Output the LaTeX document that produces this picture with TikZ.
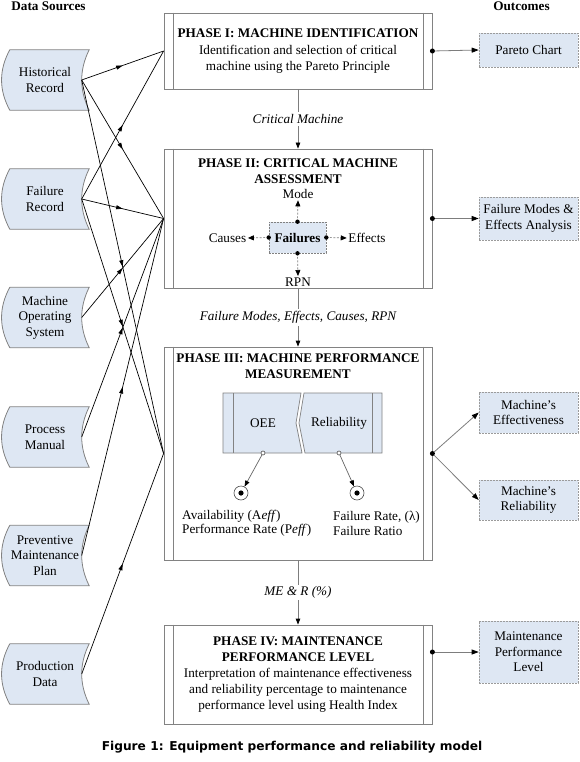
\documentclass[tikz,border=0pt]{standalone}
\usepackage{fontspec}
\setmainfont{Liberation Serif}
\newfontfamily\capfont{DejaVu Sans}
\usetikzlibrary{arrows.meta,decorations.markings,calc,backgrounds}

\definecolor{srcfill}{RGB}{222,231,243}
\definecolor{boxline}{RGB}{130,130,130}
\definecolor{conngray}{RGB}{125,125,125}

\newcommand\srcshape[1]{%
  \draw[srcdraw] ($(#1.north west)+(9,0)$) -- (#1.north east)
    .. controls ($(#1.north east)+(-10,20)$) and ($(#1.south east)+(-10,-20)$) .. (#1.south east)
    -- ($(#1.south west)+(9,0)$)
    .. controls ($(#1.south west)+(-2,-20)$) and ($(#1.north west)+(-2,20)$) .. cycle;}
\newcommand\phaselines[1]{%
  \draw[boxline,line width=0.8pt] ([xshift=10pt]#1.north west) -- ([xshift=10pt]#1.south west);
  \draw[boxline,line width=0.8pt] ([xshift=-9.5pt]#1.north east) -- ([xshift=-9.5pt]#1.south east);}

\begin{document}
\begin{tikzpicture}[x=1pt,y=-1pt,
  font=\fontsize{13.2}{15.5}\selectfont,
  srcbox/.style={minimum width=88pt,minimum height=60pt,inner sep=0pt,align=center},
  srcdraw/.style={draw=boxline,fill=srcfill,line width=0.8pt},
  phasebox/.style={draw=boxline,line width=0.8pt,fill=white,minimum width=268pt,inner sep=0pt,align=center},
  titlefont/.style={font=\fontsize{13.2}{16}\selectfont\bfseries},
  outbox/.style={fill=srcfill,draw=boxline!80,dash pattern=on 2pt off 1pt,line width=0.6pt,minimum width=99pt,inner sep=1pt,align=center},
  srcline/.style={draw=black,line width=0.7pt,postaction={decorate},
    decoration={markings,mark=at position 0.5 with {\arrow{Triangle[length=6.5pt,width=4pt]}}}},
  vconn/.style={draw=conngray,line width=0.8pt,-{Triangle[length=6pt,width=4.5pt,black]}},
  lbl/.style={fill=white,inner sep=2pt,font=\fontsize{13.2}{15.5}\selectfont\itshape},
  outarr/.style={draw=conngray,line width=0.8pt,-{Triangle[length=7pt,width=5pt,black]}},
  dasharr/.style={draw=gray,line width=0.7pt,dash pattern=on 2pt off 1.5pt,-{Triangle[length=6pt,width=5pt,black]}},
  lbltight/.style={inner sep=1.5pt},
  smallcirc/.style={circle,draw=black!70,fill=white,inner sep=0pt,minimum size=4pt,line width=0.6pt},
  target/.style={circle,draw=black!70,fill=white,inner sep=0pt,minimum size=14pt,line width=0.6pt},
  thinarr/.style={draw=black!60,line width=0.7pt,-{Triangle[length=6pt,width=4.5pt,black]}}
]
\useasboundingbox (0,0) rectangle (580,762);

% headers
\node[titlefont] (hdrL) at (48.5,6) {Data Sources};
\node[titlefont] (hdrR) at (521.5,6) {Outcomes};

% data sources
\node[srcbox] (hist) at (45,80) {Historical\\Record};
\node[srcbox] (fail) at (45,199) {Failure\\Record};
\node[srcbox] (mos) at (45,317.5) {Machine\\Operating\\System};
\node[srcbox] (pm) at (45,437) {Process\\Manual};
\node[srcbox] (pmp) at (45,555.5) {Preventive\\Maintenance\\Plan};
\node[srcbox] (prod) at (45,674) {Production\\Data};
\begin{scope}[on background layer]
  \foreach \s in {hist,fail,mos,pm,pmp,prod}{\srcshape{\s}}
\end{scope}
\foreach \s in {hist,fail,mos,pm,pmp,prod}{\coordinate (\s R) at ($(\s.east)+(-7.5,0)$);}

% phase boxes
\node[phasebox,minimum height=76pt] (p1) at (298,51)
  {\textbf{PHASE I: MACHINE IDENTIFICATION}\\[1.5pt]Identification and selection of critical\\machine using the Pareto Principle};
\phaselines{p1}
\node[phasebox,minimum height=139pt] (p2) at (298,218.5) {};
\phaselines{p2}
\node[titlefont,align=center] (p2t) at (298,171) {PHASE II: CRITICAL MACHINE\\ASSESSMENT};
\node[phasebox,minimum height=213pt] (p3) at (298,453.5) {};
\phaselines{p3}
\node[titlefont,align=center] (p3t) at (298,366) {PHASE III: MACHINE PERFORMANCE\\MEASUREMENT};
\node[phasebox,minimum height=99pt,font=\fontsize{13.2}{16}\selectfont] (p4) at (298,674.5)
  {\textbf{PHASE IV: MAINTENANCE}\\\textbf{PERFORMANCE LEVEL}\\Interpretation of maintenance effectiveness\\and reliability percentage to maintenance\\performance level using Health Index};
\phaselines{p4}

% source connectors
\draw[srcline] (histR) -- (p1.west);
\draw[srcline] (histR) -- (p2.west);
\draw[srcline] (histR) -- (p3.west);
\draw[srcline] (failR) -- (p1.west);
\draw[srcline] (failR) -- (p2.west);
\draw[srcline] (failR) -- (p3.west);
\draw[srcline] (mosR) -- (p2.west);
\draw[srcline] (pmR) -- (p2.west);
\draw[srcline] (pmpR) -- (p2.west);
\draw[srcline] (prodR) -- (p3.west);

% vertical phase connectors
\draw[vconn] (p1.south) -- node[lbl] {Critical Machine} (p2.north);
\draw[vconn] (p2.south) -- node[lbl] {Failure Modes, Effects, Causes, RPN} (p3.north);
\draw[vconn] (p3.south) -- node[lbl] {ME \& R (\%)} (p4.north);

% phase II internals
\node[fill=srcfill,draw=gray,dash pattern=on 2pt off 1pt,line width=0.6pt,minimum width=57pt,minimum height=31pt,inner sep=0pt] (failx) at (297.5,237.5) {\textbf{Failures}};
\node[lbltight] (mode) at (298,194) {Mode};
\node[lbltight] (rpn) at (298,282) {RPN};
\node[lbltight] (causes) at (227.5,238) {Causes};
\node[lbltight] (effects) at (367,238) {Effects};
\draw[dasharr] (failx.north) -- (mode.south);
\draw[dasharr] (failx.south) -- (rpn.north);
\draw[dasharr] (failx.west) -- (causes.east);
\draw[dasharr] (failx.east) -- (effects.west);
\foreach \a in {north,south,west,east}{\fill (failx.\a) circle (2.2pt);}

% phase III internals
\draw[boxline,fill=srcfill,line width=0.7pt] (223,393) -- (301,393) -- (296,423) -- (302,453) -- (223,453) -- cycle;
\draw[boxline,line width=0.7pt] (233,393) -- (233,453);
\draw[boxline,fill=srcfill,line width=0.7pt] (304,393) -- (382,393) -- (382,453) -- (305,453) -- (299,423) -- cycle;
\draw[boxline,line width=0.7pt] (372,393) -- (372,453);
\node (oee) at (263,423) {OEE};
\node (rel) at (339,423) {Reliability};
\node[smallcirc] (oeeo) at (263,453) {};
\node[smallcirc] (relo) at (339,453) {};
\node[target] (t1) at (241,493) {};
\node[target] (t2) at (357,493) {};
\fill (t1) circle (2.6pt);
\fill (t2) circle (2.6pt);
\draw[thinarr] (oeeo) -- (t1);
\draw[thinarr] (relo) -- (t2);
\node[align=left,anchor=west,inner sep=0pt,font=\fontsize{13.2}{14}\selectfont] (avail) at (182,523)
  {Availability (A\textit{eff})\\Performance Rate (P\textit{eff})};
\node[align=left,anchor=west,inner sep=0pt,font=\fontsize{13.2}{14.5}\selectfont] (frate) at (333,523.5)
  {Failure Rate, (λ)\\Failure Ratio};

% outcomes
\node[outbox,minimum height=34pt] (pareto) at (528.5,50) {Pareto Chart};
\node[outbox,minimum height=43pt] (fmea) at (528.5,218.5) {Failure Modes \&\\Effects Analysis};
\node[outbox,minimum height=41pt] (meff) at (528.5,412.5) {Machine’s\\Effectiveness};
\node[outbox,minimum height=40pt] (mrel) at (528.5,500) {Machine’s\\Reliability};
\node[outbox,minimum height=62pt] (mpl) at (528.5,652) {Maintenance\\Performance\\Level};

\draw[outarr] (p1.east) -- (pareto.west);
\fill (p1.east) circle (2.5pt);
\draw[outarr] (p2.east) -- (fmea.west);
\fill (p2.east) circle (2.5pt);
\draw[outarr] (p3.east) -- (meff.west);
\draw[outarr] (p3.east) -- (mrel.west);
\fill (p3.east) circle (2.5pt);
\coordinate (p4o) at (p4.east |- mpl.west);
\draw[outarr] (p4o) -- (mpl.west);
\fill (p4o) circle (2.5pt);

% caption
\node[font=\capfont\bfseries\fontsize{12.2}{14}\selectfont] (cap) at (292,747) {Figure 1: Equipment performance and reliability model};
\end{tikzpicture}
\end{document}
